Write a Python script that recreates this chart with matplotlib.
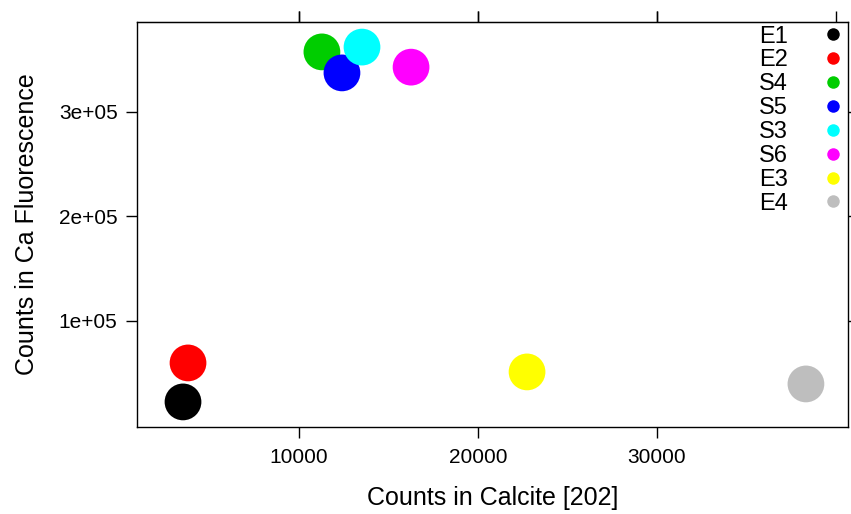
import matplotlib
matplotlib.use("Agg")
import matplotlib.pyplot as plt
from matplotlib.lines import Line2D

plt.rcParams['font.family'] = ['Liberation Sans', 'DejaVu Sans']

samples = ["E1", "E2", "S4", "S5", "S3", "S6", "E3", "E4"]
calcite = [3520, 3800, 11280, 12400, 13520, 16260, 22740, 38320]
ca_fluor = [22500, 59800, 357400, 337300, 362000, 342800, 51200, 39700]
colors = ["#000000", "#FF0000", "#00CD00", "#0000FF", "#00FFFF", "#FF00FF", "#FFFF00", "#BEBEBE"]

fig = plt.figure(figsize=(8.51, 5.14), dpi=100)
ax = fig.add_axes([137 / 851, 1 - 427 / 514, (848 - 137) / 851, (427 - 22) / 514])

for x, y, c in zip(calcite, ca_fluor, colors):
    ax.scatter(x, y, s=700, color=c, edgecolors="none", zorder=3)

ax.set_xlim(950, 40670)
ax.set_ylim(-1500, 386000)

ax.set_xticks([10000, 20000, 30000])
ax.set_yticks([100000, 200000, 300000])
ax.set_yticklabels(["1e+05", "2e+05", "3e+05"])
ax.tick_params(direction="out", length=8, width=1, labelsize=15,
               top=True, right=True, labeltop=False, labelright=False)
ax.tick_params(axis="x", pad=7)
ax.tick_params(axis="y", pad=6)

# top axis has an extra tick at 40000 (unlabelled)
top = ax.secondary_xaxis("top")
top.set_xticks([10000, 20000, 30000, 40000])
top.tick_params(direction="out", length=8, width=1, labeltop=False)
top.set_xticklabels([])

for sp in ax.spines.values():
    sp.set_linewidth(1)

ax.set_xlabel("Counts in Calcite [202]", fontsize=18, labelpad=14)
ax.set_ylabel("Counts in Ca Fluorescence", fontsize=18, labelpad=14)

handles = [Line2D([], [], linestyle="none", marker="o", markersize=9,
                  markerfacecolor=c, markeredgecolor="none") for c in colors]
ax.legend(handles, samples, loc="upper right", frameon=False, markerfirst=False,
          fontsize=17, labelspacing=0.08, handletextpad=1.4, handlelength=1.0,
          borderaxespad=0.0, borderpad=0.15)

fig.savefig("out.png", dpi=100)
